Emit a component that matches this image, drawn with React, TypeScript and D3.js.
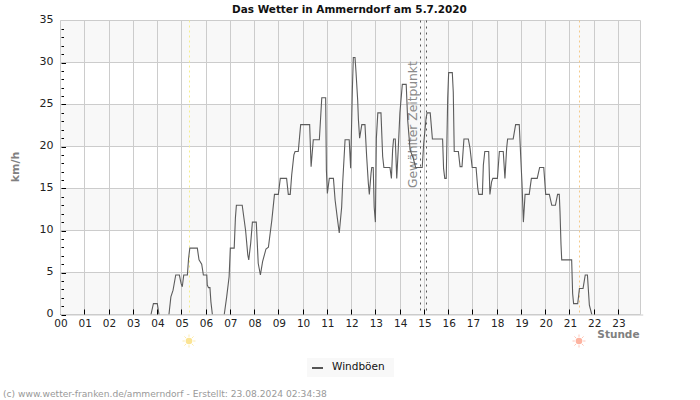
import { useEffect, useRef } from 'react';
import * as d3 from 'd3';

// Stunden des Tages und Böenwerte in km/h
const hours = [
  3.6, 3.73, 3.83, 3.99, 4.06, 4.3, 4.47, 4.55, 4.64, 4.75, 4.9, 4.97, 5.02, 5.08, 5.23, 5.28, 5.33, 5.64, 5.71, 5.82,
  5.89, 6.03, 6.05, 6.1, 6.16, 6.2, 6.26, 6.5, 6.75, 6.85, 6.95, 7.0, 7.16, 7.21, 7.25, 7.49, 7.63, 7.72, 7.76, 7.84,
  7.91, 8.07, 8.15, 8.24, 8.33, 8.47, 8.57, 8.71, 8.82, 8.98, 9.06, 9.32, 9.39, 9.47, 9.53, 9.62, 9.67, 9.8, 9.9, 10.27,
  10.33, 10.42, 10.67, 10.77, 10.93, 10.96, 11.0, 11.08, 11.25, 11.32, 11.41, 11.49, 11.59, 11.63, 11.73, 11.9, 11.96, 12.03, 12.07, 12.14,
  12.18, 12.25, 12.28, 12.33, 12.42, 12.55, 12.62, 12.69, 12.73, 12.8, 12.83, 12.89, 12.93, 12.98, 13.02, 13.08, 13.21, 13.28, 13.33, 13.58,
  13.64, 13.69, 13.73, 13.8, 13.86, 13.92, 13.99, 14.09, 14.25, 14.31, 14.41, 14.54, 14.64, 14.91, 14.97, 15.07, 15.11, 15.24, 15.33, 15.75,
  15.79, 15.84, 15.9, 15.96, 16.0, 16.15, 16.19, 16.23, 16.4, 16.47, 16.55, 16.63, 16.81, 16.88, 16.97, 17.13, 17.2, 17.24, 17.39, 17.43,
  17.49, 17.65, 17.7, 17.77, 17.82, 18.01, 18.09, 18.25, 18.32, 18.39, 18.43, 18.66, 18.76, 18.91, 18.97, 19.02, 19.08, 19.15, 19.32, 19.41,
  19.65, 19.75, 19.92, 20.0, 20.15, 20.25, 20.4, 20.49, 20.56, 20.59, 20.63, 20.66, 21.07, 21.11, 21.15, 21.32, 21.39, 21.54, 21.63, 21.72,
  21.8, 21.9, 22.1,
];
const gusts = [
  0, 0, 1.3, 1.3, 0, 0, 0, 2.1, 2.9, 4.7, 4.7, 3.7, 3.3, 4.7, 4.7, 6.7, 7.9, 7.9, 6.5, 6.0,
  4.7, 4.7, 3.5, 3.2, 3.2, 1.5, 0, 0, 0, 2.1, 4.5, 7.9, 7.9, 11.5, 13, 13, 10, 7.1, 6.5, 8.5,
  11, 11, 6.1, 4.7, 6.3, 7.8, 8, 11.2, 14.3, 14.3, 16.2, 16.2, 14.3, 14.3, 16.6, 19, 19.4, 19.4, 22.6, 22.6,
  17.6, 20.8, 20.8, 25.8, 25.8, 17.2, 14.4, 16.2, 16.2, 13.6, 11.5, 9.7, 12.8, 15.6, 20.8, 20.8, 17.4, 26.7, 30.6, 30.6,
  28.9, 25.5, 23.2, 21, 22.6, 22.6, 18.8, 15.6, 14.3, 16.8, 17.5, 17.5, 12.8, 11, 21, 24, 24, 18.8, 17.5, 17.5,
  16.2, 19.6, 20.9, 20.9, 16.2, 19.6, 24, 27.4, 27.4, 23.2, 19.6, 18.6, 17.5, 17.5, 20.3, 23.4, 24, 24, 20.9, 20.9,
  17.4, 16.2, 16.2, 25.7, 28.8, 28.8, 26.5, 19.4, 19.4, 17.6, 17.6, 20.9, 20.9, 19.8, 17.5, 17.5, 15, 14.3, 14.3, 17.8,
  19.4, 19.4, 14.3, 15.8, 16.2, 16.2, 19.4, 19.4, 16.2, 19.8, 20.9, 20.9, 22.6, 22.6, 18.8, 15.8, 11, 14.3, 14.3, 16.2,
  16.2, 17.5, 17.5, 14.3, 14.3, 13, 13, 14.3, 14.3, 12.2, 8.4, 6.5, 6.5, 2.5, 1.3, 1.3, 3.1, 3.1, 4.7, 4.7,
  1.1, 0, 0,
];

const hourTicks = d3.range(0, 24);
const yMajor = [0, 5, 10, 15, 20, 25, 30, 35];
const yMinor = d3.range(0, 35);
const bands = [[30, 35], [20, 25], [10, 15], [0, 5]];
const sunrise = 5.32;
const sunset = 21.38;
const selected = [14.83, 15.08];

const font = 'DejaVu Sans, Verdana, sans-serif';

export default function App() {
  const ref = useRef<SVGSVGElement | null>(null);

  useEffect(() => {
    if (!ref.current) return;
    const svg = d3.select(ref.current);
    svg.selectAll('*').remove();

    const x = d3.scaleLinear().domain([0, 24]).range([60.5, 60.5 + 24 * 24.26]);
    const y = d3.scaleLinear().domain([0, 35]).range([314.5, 20.5]);
    const right = 640.5;
    // senkrechte Linien liegen auf ganzen Pixeln
    const snap = (h: number) => Math.floor(x(h)) + 0.5;

    // Hintergrundstreifen
    svg.selectAll('.band')
      .data(bands)
      .enter()
      .append('rect')
      .attr('x', x(0))
      .attr('width', right - x(0))
      .attr('y', (d) => y(d[1]))
      .attr('height', (d) => y(d[0]) - y(d[1]))
      .attr('fill', '#f8f8f8');

    // Gitter
    svg.selectAll('.hgrid')
      .data(yMajor)
      .enter()
      .append('line')
      .attr('x1', x(0))
      .attr('x2', right)
      .attr('y1', (d) => y(d))
      .attr('y2', (d) => y(d))
      .attr('stroke', '#cccccc');
    svg.selectAll('.vgrid')
      .data(hourTicks)
      .enter()
      .append('line')
      .attr('x1', (d) => snap(d))
      .attr('x2', (d) => snap(d))
      .attr('y1', y(35))
      .attr('y2', y(0))
      .attr('stroke', '#cccccc');
    svg.append('line')
      .attr('x1', right)
      .attr('x2', right)
      .attr('y1', y(35))
      .attr('y2', y(0))
      .attr('stroke', '#cccccc');

    // Sonnenauf- und -untergang
    [
      { h: sunrise, line: '#f5ee90', sun: '#fbe493' },
      { h: sunset, line: '#f3c98a', sun: '#fdb3a0' },
    ].forEach(({ h, line, sun }) => {
      const px = snap(h);
      svg.append('line')
        .attr('x1', px)
        .attr('x2', px)
        .attr('y1', y(35))
        .attr('y2', y(0))
        .attr('stroke', line)
        .attr('stroke-dasharray', '2,3');
      const g = svg.append('g').attr('transform', `translate(${px - 0.5},341)`);
      g.append('circle').attr('r', 3.3).attr('fill', sun);
      d3.range(0, 8).forEach((i) => {
        const a = (i * Math.PI) / 4;
        g.append('line')
          .attr('x1', Math.cos(a) * 4.2)
          .attr('y1', Math.sin(a) * 4.2)
          .attr('x2', Math.cos(a) * 6.5)
          .attr('y2', Math.sin(a) * 6.5)
          .attr('stroke', sun)
          .attr('stroke-opacity', 0.75)
          .attr('stroke-width', 1);
      });
    });

    // Gewählter Zeitpunkt
    selected.forEach((h) => {
      svg.append('line')
        .attr('x1', snap(h))
        .attr('x2', snap(h))
        .attr('y1', y(35))
        .attr('y2', y(0))
        .attr('stroke', '#555555')
        .attr('stroke-dasharray', '2,4');
    });
    svg.append('text')
      .attr('transform', 'translate(417,188) rotate(-90)')
      .attr('font-family', font)
      .attr('font-size', 12.3)
      .attr('fill', '#8a8a8a')
      .text('Gewählter Zeitpunkt');

    // Böen, bei 0 km/h wird nichts gezeichnet
    const line = d3.line<number>()
      .defined((d, i) => d > 0 || gusts[i - 1] > 0 || gusts[i + 1] > 0)
      .x((d, i) => x(hours[i]))
      .y((d) => y(d));
    svg.append('path')
      .datum(gusts)
      .attr('fill', 'none')
      .attr('stroke', '#5c5c5c')
      .attr('stroke-width', 1.1)
      .attr('d', line);

    // Achsen
    const xAxis = svg.append('g')
      .attr('transform', `translate(0,${y(0)})`)
      .call(
        d3.axisBottom(x)
          .tickValues(hourTicks)
          .tickFormat((d) => String(d).padStart(2, '0'))
          .tickSize(0)
          .tickPadding(5)
      );
    xAxis.select('.domain').attr('stroke', '#cccccc');
    xAxis.selectAll('text')
      .attr('font-family', font)
      .attr('font-size', 10.5)
      .attr('fill', '#222222');

    svg.selectAll('.xtick')
      .data(hourTicks)
      .enter()
      .append('line')
      .attr('x1', (d) => snap(d))
      .attr('x2', (d) => snap(d))
      .attr('y1', y(0) - 5)
      .attr('y2', y(0))
      .attr('stroke', '#000000');

    svg.selectAll('.ytick')
      .data(yMinor)
      .enter()
      .append('line')
      .attr('x1', x(0) + 1)
      .attr('x2', (d) => x(0) + (d % 5 === 0 ? 5.5 : 3.5))
      .attr('y1', (d) => Math.round(y(d)) + 0.5)
      .attr('y2', (d) => Math.round(y(d)) + 0.5)
      .attr('stroke', '#000000');

    const yAxis = svg.append('g')
      .attr('transform', `translate(${x(0)},-1.5)`)
      .call(d3.axisLeft(y).tickValues(yMajor).tickSize(0).tickPadding(7));
    yAxis.select('.domain').remove();
    yAxis.selectAll('text')
      .attr('font-family', font)
      .attr('font-size', 11)
      .attr('fill', '#222222');
    svg.append('line')
      .attr('x1', x(0))
      .attr('x2', x(0))
      .attr('y1', y(35))
      .attr('y2', y(0))
      .attr('stroke', '#cccccc');

    // Beschriftungen
    svg.append('text')
      .attr('x', 349.5)
      .attr('y', 12.5)
      .attr('text-anchor', 'middle')
      .attr('font-family', font)
      .attr('font-size', 10.45)
      .attr('font-weight', 'bold')
      .attr('fill', '#111111')
      .text('Das Wetter in Ammerndorf am 5.7.2020');
    svg.append('text')
      .attr('transform', 'translate(19,167) rotate(-90)')
      .attr('text-anchor', 'middle')
      .attr('font-family', font)
      .attr('font-size', 11)
      .attr('font-weight', 'bold')
      .attr('fill', '#808080')
      .text('km/h');
    svg.append('text')
      .attr('x', 639.5)
      .attr('y', 338)
      .attr('text-anchor', 'end')
      .attr('font-family', font)
      .attr('font-size', 10.5)
      .attr('font-weight', 'bold')
      .attr('fill', '#808080')
      .text('Stunde');

    // Legende
    svg.append('rect')
      .attr('x', 307)
      .attr('y', 358)
      .attr('width', 87)
      .attr('height', 19)
      .attr('fill', '#f8f8f8');
    svg.append('line')
      .attr('x1', 312)
      .attr('x2', 323)
      .attr('y1', 368)
      .attr('y2', 368)
      .attr('stroke', '#555555')
      .attr('stroke-width', 2);
    svg.append('text')
      .attr('x', 332)
      .attr('y', 370)
      .attr('font-family', font)
      .attr('font-size', 10.5)
      .attr('fill', '#111111')
      .text('Windböen');

    svg.append('text')
      .attr('x', 3)
      .attr('y', 397)
      .attr('font-family', font)
      .attr('font-size', 9.15)
      .attr('fill', '#999999')
      .text('(c) www.wetter-franken.de/ammerndorf - Erstellt: 23.08.2024 02:34:38');
  }, []);

  return <svg ref={ref} width={700} height={400} style={{ position: 'absolute', left: 0, top: 0 }}></svg>;
}
